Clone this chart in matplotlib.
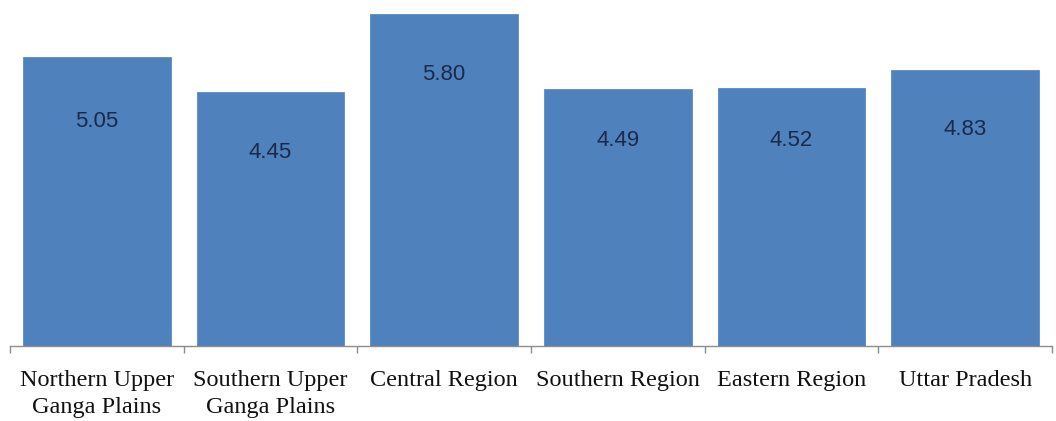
import matplotlib
matplotlib.use("Agg")
import matplotlib.pyplot as plt
import numpy as np

categories = ["Northern Upper\nGanga Plains", "Southern Upper\nGanga Plains", "Central Region",
              "Southern Region", "Eastern Region", "Uttar Pradesh"]
values = [5.05, 4.45, 5.80, 4.49, 4.52, 4.83]
value_labels = ["5.05", "4.45", "5.80", "4.49", "4.52", "4.83"]
label_drop_pt = [46, 44, 43, 37, 38, 43]

fig = plt.figure(figsize=(10.56, 4.21), dpi=100)
ax = fig.add_axes([10/1056, 75/421, 1042/1056, 346/421])

x = np.arange(len(categories))
bars = ax.bar(x, values, width=0.85, color="#4F81BD", edgecolor="#5B8BC4", linewidth=0.6, zorder=2)

for xi, v, lab, d in zip(x, values, value_labels, label_drop_pt):
    ax.annotate(lab, xy=(xi, v), xytext=(0, -d), textcoords="offset points",
                ha="center", va="center", fontsize=16, color="#1B2A4A",
                family="Liberation Sans")

ax.set_xlim(-0.5, len(categories) - 0.5)
ax.set_ylim(0, 6.05)
for s in ["top", "right", "left"]:
    ax.spines[s].set_visible(False)
ax.spines["bottom"].set_color("#8C8C8C")
ax.spines["bottom"].set_linewidth(1.0)
ax.set_yticks([])

ax.set_xticks(x)
ax.set_xticklabels(categories, family="Liberation Serif", fontsize=17.5, color="#111111",
                   linespacing=1.4)
ax.tick_params(axis="x", which="major", length=0, pad=17)
ax.set_xticks(np.arange(-0.5, len(categories)), minor=True)
ax.tick_params(axis="x", which="minor", length=5, color="#8C8C8C", width=1.0)

fig.savefig("out.png", dpi=100, facecolor="white")
